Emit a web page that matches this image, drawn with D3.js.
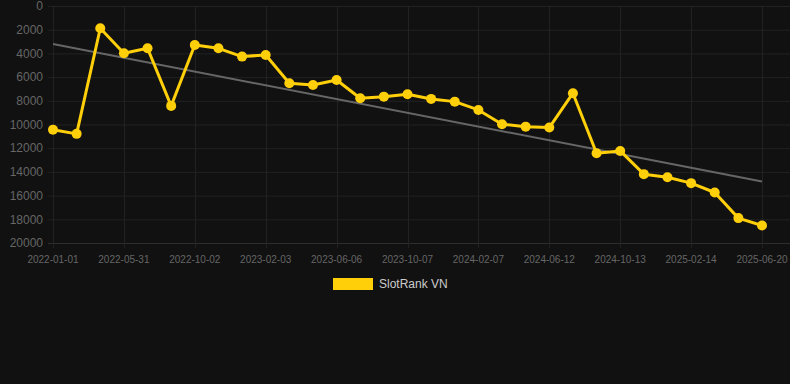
<!DOCTYPE html>
<html>
<head>
<meta charset="utf-8">
<script src="https://cdn.jsdelivr.net/npm/d3@7"></script>
<style>
  html, body { margin: 0; padding: 0; background: #111111; }
  svg { display: block; font-family: "Liberation Sans", Arial, sans-serif; }
</style>
</head>
<body>
<svg class="chart" width="790" height="384"></svg>
<script>
// dates (only every third one is shown on the axis)
const dates = [
  '2022-01-01', '2022-02-20', '2022-04-11', '2022-05-31', '2022-07-11', '2022-08-22',
  '2022-10-02', '2022-11-13', '2022-12-24', '2023-02-03', '2023-03-16', '2023-04-26',
  '2023-06-06', '2023-07-17', '2023-08-27', '2023-10-07', '2023-11-17', '2023-12-28',
  '2024-02-07', '2024-03-19', '2024-05-01', '2024-06-12', '2024-07-23', '2024-09-02',
  '2024-10-13', '2024-11-23', '2025-01-04', '2025-02-14', '2025-03-27', '2025-05-09',
  '2025-06-20'
];
const ranks = [
  10450, 10790, 1880, 3990, 3570, 8430, 3290, 3570, 4270, 4130,
  6520, 6660, 6240, 7780, 7650, 7450, 7840, 8070, 8770, 9980,
  10180, 10260, 7360, 12420, 12230, 14190, 14450, 14950, 15740, 17900,
  18520
];
const yTicks = [0, 2000, 4000, 6000, 8000, 10000, 12000, 14000, 16000, 18000, 20000];
const seriesName = 'SlotRank VN';

const width = 790;
const margin = { top: 6, right: 28, bottom: 141, left: 53 };
const plotBottom = 384 - margin.bottom;
const yellow = '#ffcf0a';

const svg = d3.select('.chart');

const x = d3.scalePoint()
  .domain(dates)
  .range([margin.left, width - margin.right]);

const y = d3.scaleLinear()
  .domain([0, 20000])
  .range([margin.top, plotBottom]);

// grid
const shown = dates.filter((d, i) => i % 3 === 0);

svg.append('g')
  .selectAll('line')
  .data(yTicks)
  .enter().append('line')
  .attr('x1', margin.left - 5)
  .attr('x2', width)
  .attr('y1', d => y(d) + 0.5)
  .attr('y2', d => y(d) + 0.5)
  .attr('stroke', d => d === 20000 ? '#2e2e2e' : '#222222')
  .attr('stroke-width', 1);

svg.append('g')
  .selectAll('line')
  .data(shown)
  .enter().append('line')
  .attr('x1', d => Math.round(x(d)) + 0.5)
  .attr('x2', d => Math.round(x(d)) + 0.5)
  .attr('y1', margin.top)
  .attr('y2', plotBottom + 5)
  .attr('stroke', '#222222')
  .attr('stroke-width', 1);

// y axis labels
svg.append('g')
  .selectAll('text')
  .data(yTicks)
  .enter().append('text')
  .attr('x', 43)
  .attr('y', d => y(d))
  .attr('dy', '0.35em')
  .attr('text-anchor', 'end')
  .attr('fill', '#666666')
  .style('font-size', '12px')
  .text(d => d);

// x axis labels
svg.append('g')
  .selectAll('text')
  .data(shown)
  .enter().append('text')
  .attr('x', d => x(d))
  .attr('y', 263)
  .attr('text-anchor', 'middle')
  .attr('fill', '#666666')
  .style('font-size', '10px')
  .text(d => d);

// trend line (least squares over the index)
const n = ranks.length;
const mx = d3.mean(ranks, (d, i) => i);
const my = d3.mean(ranks);
const slope = d3.sum(ranks, (d, i) => (i - mx) * (d - my)) / d3.sum(ranks, (d, i) => (i - mx) * (i - mx));
const icpt = my - slope * mx;

svg.append('line')
  .attr('x1', x(dates[0]))
  .attr('y1', y(icpt))
  .attr('x2', x(dates[n - 1]))
  .attr('y2', y(icpt + slope * (n - 1)))
  .attr('stroke', '#666666')
  .attr('stroke-width', 2);

// series
const line = d3.line()
  .x((d, i) => x(dates[i]))
  .y(d => y(d));

svg.append('path')
  .datum(ranks)
  .attr('d', line)
  .attr('fill', 'none')
  .attr('stroke', yellow)
  .attr('stroke-width', 3)
  .attr('stroke-linejoin', 'round');

svg.append('g')
  .selectAll('circle')
  .data(ranks)
  .enter().append('circle')
  .attr('cx', (d, i) => x(dates[i]))
  .attr('cy', d => y(d))
  .attr('r', 5)
  .attr('fill', yellow);

// legend
svg.append('rect')
  .attr('x', 333)
  .attr('y', 278)
  .attr('width', 40)
  .attr('height', 12)
  .attr('fill', yellow);

svg.append('text')
  .attr('x', 379)
  .attr('y', 288)
  .attr('fill', '#cccccc')
  .style('font-size', '12px')
  .text(seriesName);
</script>
</body>
</html>
